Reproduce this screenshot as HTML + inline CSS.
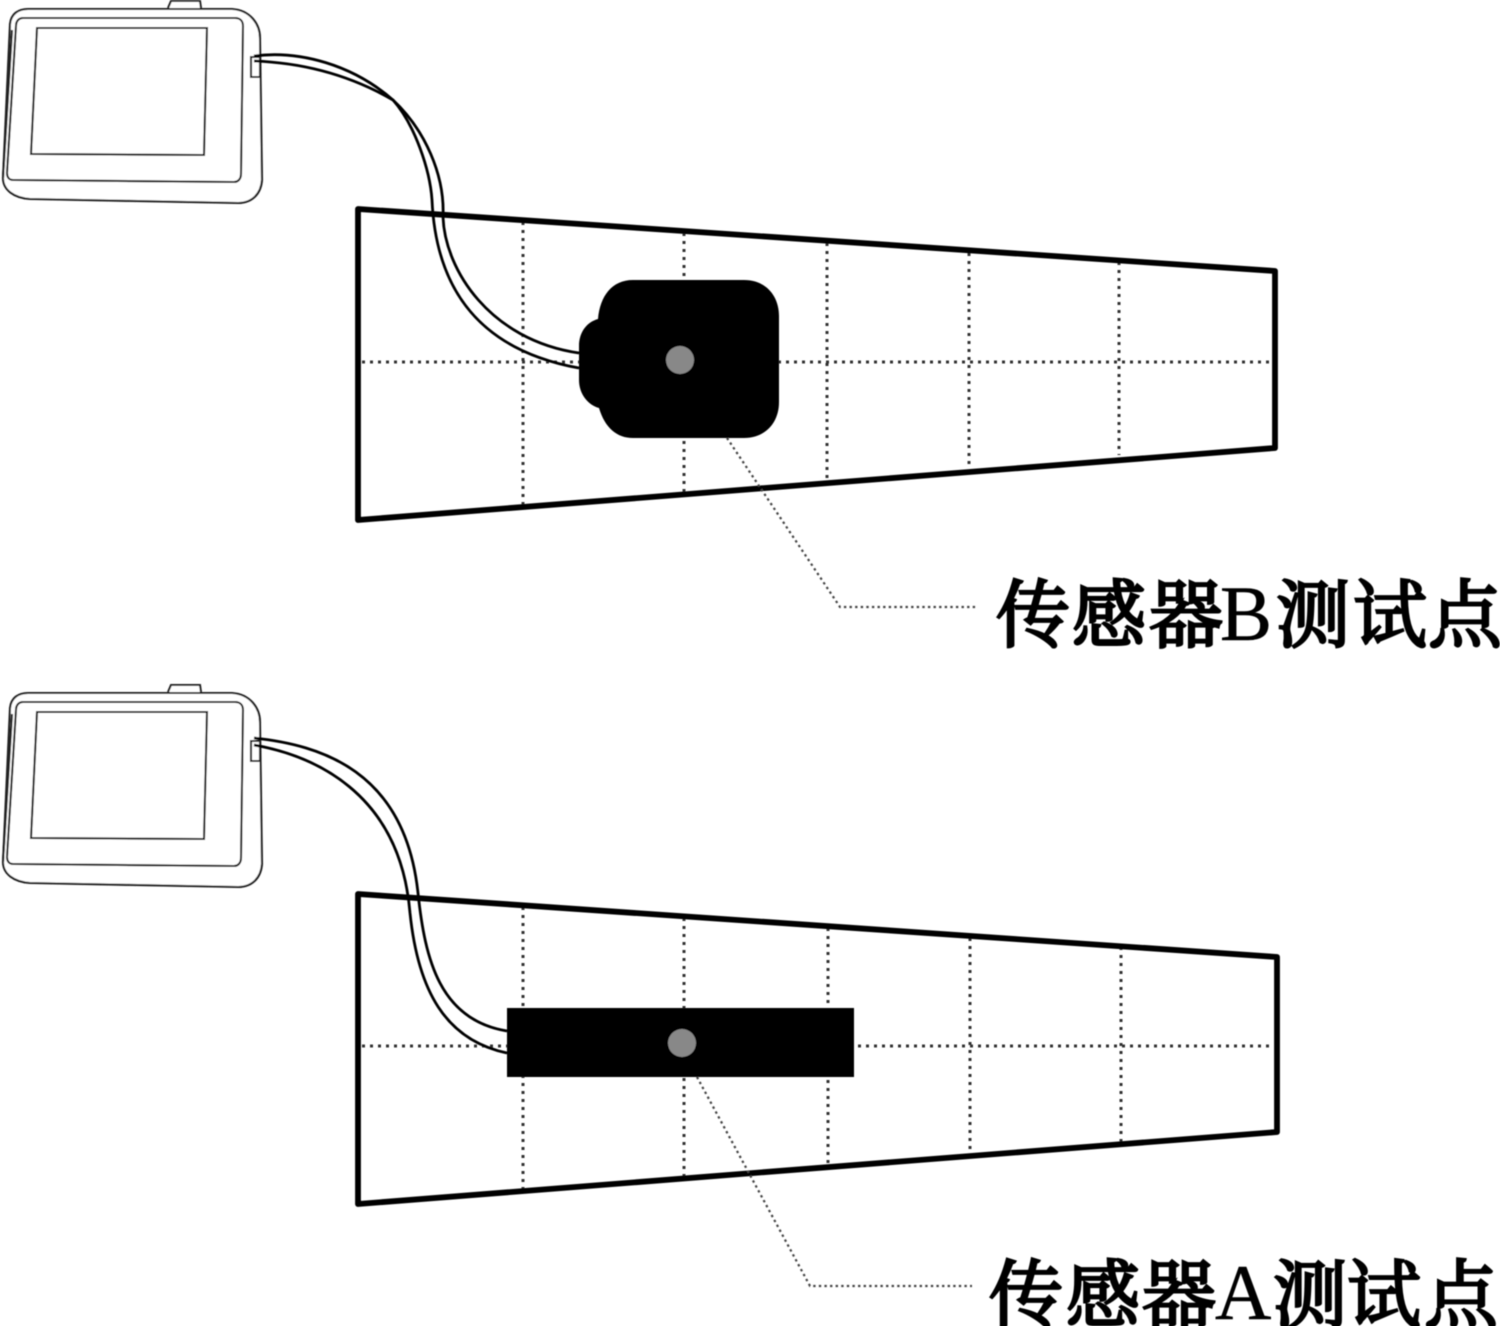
<!DOCTYPE html>
<html><head><meta charset="utf-8"><style>
html,body{margin:0;padding:0;background:#fff;width:1500px;height:1326px;overflow:hidden}
svg{display:block}
.dev{fill:#fff;stroke:#222;stroke-width:2.1}
.cab{fill:none;stroke:#000;stroke-width:2.8}
.tr{fill:none;stroke:#000;stroke-width:5.8;stroke-linejoin:round}
.dot{fill:none;stroke:#333;stroke-width:3;stroke-dasharray:3 5}
.lead{fill:none;stroke:#444;stroke-width:2.2;stroke-dasharray:2.4 3.2}
text{font-family:"Liberation Serif","Noto Serif CJK SC",serif;fill:#000}
.c{font-weight:400;font-size:74px;stroke:#000;stroke-width:2.7px}
.l{font-size:78px;stroke:#000;stroke-width:.5px}
</style></head><body>
<svg width="1500" height="1326" viewBox="0 0 1500 1326" xmlns="http://www.w3.org/2000/svg">
<defs>
<filter id="b" x="-2%" y="-2%" width="104%" height="104%"><feGaussianBlur stdDeviation="0.5"/></filter>
<g id="device">
<path class="dev" d="M168 8L171 1H200L201 8"/>
<path class="dev" d="M28 9H232C250 10 260 24 260 38L262 180C261 194 252 203 238 203L30 199C14 198 3 190 3 178L10 24C11 14 18 9 28 9Z"/>
<path class="dev" d="M3 178L12 30" />
<path class="dev" d="M23 18H235C241 18 243 22 243 26L241 174C241 179 238 182 234 182L13 180C9 180 7 177 7 173L16 26C16 21 19 18 23 18Z"/>
<path class="dev" d="M37 28H207L204 155L31 154Z"/>
<path class="dev" d="M251 57H260V77H251Z"/>
</g>
</defs>
<rect width="1500" height="1326" fill="#fff"/>
<g filter="url(#b)">
<!-- top -->
<g class="dot">
<path d="M523 222V505M684 233V492M827 243V478M969 253V467M1119 262V455M362 362H1272"/>
</g>
<path class="tr" d="M358 209L1275 271V448L358 520Z"/>
<use href="#device"/>
<path class="cab" d="M254 56C300 50 353 65 393 100C425 130 445 175 443 217C445 270 490 340 579 353"/>
<path class="cab" d="M254 61C310 63 355 78 393 100C415 125 430 170 432 200C436 290 480 350 579 368"/>
<path d="M633 280H744C766 280 779 296 779 316V402C779 424 764 438 744 438H633C617 438 605 428 599 408C588 405 579 394 579 380V346C579 332 587 322 598 319C600 296 612 280 633 280Z" fill="#000"/>
<circle cx="680" cy="360" r="14" fill="#888"/>
<path class="lead" d="M727 438L840 607H978"/>
<text class="c" y="641"><tspan x="996">传</tspan><tspan x="1072">感</tspan><tspan x="1149">器</tspan></text>
<text class="l" x="1220" y="640">B</text>
<text class="c" y="641"><tspan x="1276">测</tspan><tspan x="1353">试</tspan><tspan x="1428">点</tspan></text>

<!-- bottom -->
<g class="dot">
<path d="M523 907V1190M684 918V1177M828 928V1165M970 938V1152M1121 947V1142M362 1046H1272"/>
</g>
<path class="tr" d="M358 894L1277 957V1132L358 1204Z"/>
<use href="#device" y="684"/>
<path class="cab" d="M254 738C320 745 405 770 418 893C425 960 440 1020 507 1031"/>
<path class="cab" d="M254 745C310 755 400 790 410 913C418 990 445 1040 507 1053"/>
<rect x="507" y="1008" width="347" height="69" fill="#000"/>
<circle cx="682" cy="1043" r="14" fill="#888"/>
<path class="lead" d="M697 1077L810 1286H972"/>
<text class="c" y="1321"><tspan x="989">传</tspan><tspan x="1066">感</tspan><tspan x="1142">器</tspan></text>
<text class="l" x="1215" y="1319">A</text>
<text class="c" y="1321"><tspan x="1273">测</tspan><tspan x="1347">试</tspan><tspan x="1424">点</tspan></text>
</g>
</svg>
</body></html>
